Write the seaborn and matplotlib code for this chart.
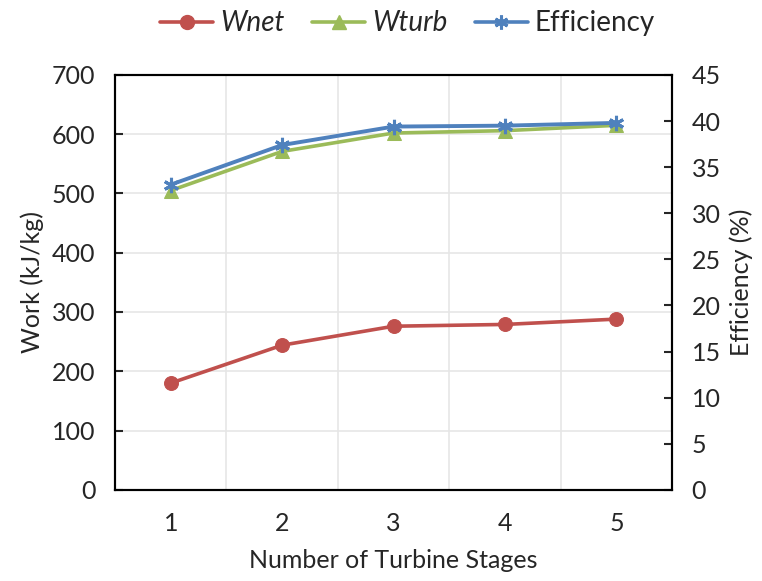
import numpy as np
import pandas as pd
import matplotlib
matplotlib.use('Agg')
import matplotlib.pyplot as plt
import seaborn as sns
from matplotlib.lines import Line2D

# data
stages = [1, 2, 3, 4, 5]
wnet = [180, 244, 276, 279, 288]
wturb = [505, 571, 602, 606, 615]
efficiency = [33.1, 37.4, 39.4, 39.5, 39.8]

red = '#C0504D'
green = '#9BBB59'
blue = '#4F81BD'

sns.set_style('white')
plt.rcParams['font.family'] = ['Lato', 'DejaVu Sans']

df = pd.DataFrame({'stage': stages, 'Wnet': wnet, 'Wturb': wturb, 'Efficiency': efficiency})

fig = plt.figure(figsize=(7.62, 5.81), dpi=100)
ax = fig.add_axes([0.151, 0.157, 0.731, 0.714])
ax2 = ax.twinx()

sns.lineplot(data=df, x='stage', y='Wnet', ax=ax, color=red, marker='o',
             markersize=10, markeredgecolor=red, linewidth=2.6, zorder=3)
sns.lineplot(data=df, x='stage', y='Wturb', ax=ax, color=green, marker='^',
             markersize=10, markeredgecolor=green, linewidth=2.6, zorder=3)
sns.lineplot(data=df, x='stage', y='Efficiency', ax=ax2, color=blue, marker=(6, 2, 0),
             markersize=11, markeredgewidth=2.2, markeredgecolor=blue, linewidth=2.8, zorder=3)

ax.set_xlim(0.5, 5.5)
ax.set_ylim(0, 700)
ax2.set_ylim(0, 45)
ax.set_xticks(stages)
ax.set_yticks(range(0, 701, 100))
ax2.set_yticks(range(0, 46, 5))

# gridlines: horizontal at left ticks, vertical at category boundaries
for y in range(100, 701, 100):
    ax.axhline(y, color='#E6E6E6', linewidth=1.2, zorder=0)
for xb in [1.5, 2.5, 3.5, 4.5]:
    ax.axvline(xb, color='#E6E6E6', linewidth=1.2, zorder=0)

ax.set_xticks([1.5, 2.5, 3.5, 4.5], minor=True)
ax.tick_params(axis='x', which='major', length=0, labelsize=18, pad=16)
ax.tick_params(axis='x', which='minor', direction='in', length=6, width=1.5, color='black')
ax.tick_params(axis='y', direction='in', length=6, width=1.5, labelsize=18, pad=14)
ax2.tick_params(axis='y', direction='in', length=6, width=1.5, labelsize=18, pad=14)

for a in (ax, ax2):
    for s in a.spines.values():
        s.set_color('black')
        s.set_linewidth(1.5)
        s.set_visible(True)

ax.set_xlabel('Number of Turbine Stages', fontsize=18, labelpad=10)
ax.set_ylabel('Work (kJ/kg)', fontsize=18, labelpad=6)
ax2.set_ylabel('Efficiency (%)', fontsize=18, labelpad=6)

handles = [
    Line2D([], [], color=red, marker='o', markersize=10, linewidth=2.6),
    Line2D([], [], color=green, marker='^', markersize=10, linewidth=2.6),
    Line2D([], [], color=blue, marker=(6, 2, 0), markersize=10, markeredgewidth=2.2, linewidth=2.6),
]
leg = fig.legend(handles, ['Wnet', 'Wturb', 'Efficiency'], loc='upper center',
                 bbox_to_anchor=(0.535, 1.025), ncol=3, frameon=False, fontsize=20,
                 handlelength=1.9, columnspacing=1.0, handletextpad=0.25)
for t in leg.get_texts()[:2]:
    t.set_style('italic')

fig.savefig('out.png', dpi=100)
